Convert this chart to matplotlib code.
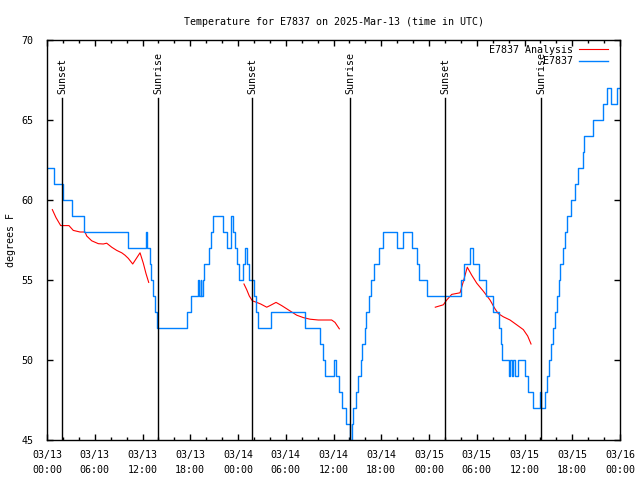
import numpy as np
import matplotlib
matplotlib.use("Agg")
import matplotlib.pyplot as plt

plt.rcParams['font.family'] = ['DejaVu Sans Mono']
plt.rcParams['font.size'] = 7.2

# hours since 03/13 00:00 UTC
obs_hours = [0.13, 0.94, 2.01, 3.20, 4.65, 10.12, 12.38, 12.57, 12.88, 13.13, 13.32, 13.57, 13.82,
             17.53, 18.09, 18.97, 19.16, 19.29, 19.41, 19.54, 19.73, 20.39, 20.61, 20.82,
             22.12, 22.56, 23.08, 23.18, 23.41, 23.62, 23.84, 24.13, 24.63, 24.94, 25.13, 25.38,
             26.01, 26.26, 26.51, 28.15, 32.42, 34.30, 34.62, 34.93, 36.00, 36.31, 36.69, 37.13,
             37.63, 38.07, 38.33, 38.51, 38.77, 39.14, 39.46, 39.64, 39.90, 40.08, 40.40, 40.71,
             41.03, 41.78, 42.22, 43.98, 44.73, 45.86, 46.43, 46.74, 47.75, 52.02, 52.34, 53.09,
             53.59, 54.28, 55.16, 55.98, 56.80, 56.99, 57.17, 57.99, 58.18, 58.37, 58.56, 58.81,
             59.18, 60.00, 60.50, 61.01, 61.89, 62.07, 62.58, 62.83, 63.14, 63.37, 63.58, 63.87,
             64.05, 64.30, 64.46, 64.84, 65.05, 65.40, 65.88, 66.31, 66.72, 67.31, 67.48, 68.65,
             69.90, 70.33, 70.83, 71.59, 72.0]
obs_temp = [62, 61, 60, 59, 58, 57, 58, 57, 56, 55, 54, 53, 52,
            53, 54, 55, 54, 55, 54, 55, 56, 57, 58, 59,
            58, 57, 58, 59, 58, 57, 56, 55, 56, 57, 56, 55,
            54, 53, 52, 53, 52, 51, 50, 49, 50, 49, 48, 47,
            46, 45, 46, 47, 48, 49, 50, 51, 52, 53, 54, 55,
            56, 57, 58, 57, 58, 57, 56, 55, 54, 55, 56, 57,
            56, 55, 54, 53, 52, 51, 50, 49, 50, 49, 50, 49,
            50, 49, 48, 47, 48, 47, 48, 49, 50, 51, 52, 53,
            54, 55, 56, 57, 58, 59, 60, 61, 62, 63, 64, 65,
            66, 67, 66, 67, 67]

ana_hours = [0.67, 1.13, 1.72, 2.76, 3.30, 4.15, 4.78, 4.99, 5.62, 6.45, 7.07, 7.50, 8.13, 8.76,
             9.39, 9.80, 10.22, 10.77, 11.69, 12.10, 12.44, 12.78, 13.0,
             24.75, 25.09, 25.42, 25.80, 26.35, 26.85, 27.61, 28.02, 28.78, 29.49, 30.12, 30.75,
             31.38, 32.21, 33.05, 34.09, 35.15, 35.77, 36.19, 36.73, 37.0,
             48.79, 49.80, 50.23, 50.85, 51.90, 52.31, 52.81, 53.37, 54.00, 54.83, 55.67, 56.29,
             56.71, 57.34, 58.18, 59.02, 59.85, 60.40, 60.82]
ana_temp = [59.4, 58.9, 58.4, 58.4, 58.1, 58.0, 58.0, 57.75, 57.45, 57.27, 57.25, 57.3, 57.05, 56.85,
            56.7, 56.55, 56.35, 56.0, 56.7, 56.05, 55.4, 54.85, np.nan,
            54.75, 54.4, 54.0, 53.7, 53.6, 53.5, 53.3, 53.4, 53.6, 53.4, 53.2, 53.0,
            52.8, 52.65, 52.55, 52.5, 52.5, 52.5, 52.35, 51.95, np.nan,
            53.3, 53.45, 53.75, 54.1, 54.2, 54.9, 55.8, 55.3, 54.8, 54.3, 53.75, 53.2,
            52.9, 52.7, 52.5, 52.2, 51.9, 51.5, 51.0]

sun_hours = [1.88, 13.95, 25.76, 38.07, 50.01, 62.07]
sun_labels = ["Sunset", "Sunrise", "Sunset", "Sunrise", "Sunset", "Sunrise"]

tick_hours = list(range(0, 73, 6))
tick_labels = ["03/13\n00:00", "03/13\n06:00", "03/13\n12:00", "03/13\n18:00",
               "03/14\n00:00", "03/14\n06:00", "03/14\n12:00", "03/14\n18:00",
               "03/15\n00:00", "03/15\n06:00", "03/15\n12:00", "03/15\n18:00",
               "03/16\n00:00"]

fig = plt.figure(figsize=(6.4, 4.8), dpi=100)
ax = fig.add_axes([47/640, 40/480, 573/640, 400/480])

ax.plot(ana_hours, ana_temp, color="#ff0000", lw=0.8, label="E7837 Analysis")
ax.plot(obs_hours, obs_temp, color="#0080ff", lw=1.0, drawstyle="steps-post", label="E7837")

for h, lab in zip(sun_hours, sun_labels):
    ax.plot([h, h], [45, 66.35], color="black", lw=1.0)
    ax.text(h, 66.65, lab, rotation=90, ha="center", va="bottom")

ax.set_xlim(0, 72)
ax.set_ylim(45, 70)
ax.set_xticks(tick_hours)
ax.set_xticklabels(tick_labels, linespacing=1.6)
ax.set_xticks(range(0, 73, 2), minor=True)
ax.set_yticks(range(45, 71, 5))
ax.tick_params(which="both", direction="in", top=True, right=True, width=1)
ax.tick_params(which="major", length=4)
ax.tick_params(axis="x", pad=7)
ax.tick_params(axis="y", pad=10)
ax.tick_params(which="minor", length=2.5)
for s in ax.spines.values():
    s.set_linewidth(1)

ax.set_title("Temperature for E7837 on 2025-Mar-13 (time in UTC)", fontsize=7.2, pad=11)
ax.set_ylabel("degrees F", labelpad=4)

ax.legend(loc="upper right", bbox_to_anchor=(1 - 7/573, 1), frameon=False, markerfirst=False,
          handlelength=2.9, handletextpad=0.6, borderaxespad=0.2, borderpad=0.3,
          labelspacing=0.15)

fig.savefig("out.png", dpi=100)
